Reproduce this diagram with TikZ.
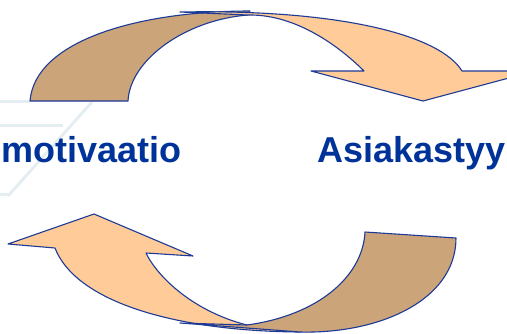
\documentclass[tikz,border=0pt]{standalone}
\usepackage{fontspec}
\setmainfont{Liberation Sans}
\usetikzlibrary{positioning}

\definecolor{bandtan}{RGB}{204,164,122}
\definecolor{bandlight}{RGB}{255,204,153}
\definecolor{edgeblue}{RGB}{28,58,150}
\definecolor{textblue}{RGB}{0,51,153}
\definecolor{watermark}{RGB}{228,238,242}

\tikzset{
	band/.style			= {draw = edgeblue, line width = 1.1pt, line join = round},
	bandback/.style		= {band, fill = bandtan},
	bandfront/.style	= {band, fill = bandlight},
	faintline/.style	= {draw = watermark, line width = 3pt},
	cyclelabel/.style	=
	{
		anchor		= base west,
		inner sep	= 0pt,
		text		= textblue,
		font		= \fontsize{36}{40}\selectfont\bfseries
	}
}

\begin{document}
\begin{tikzpicture}[x=1pt, y=-1pt]
		%
		\useasboundingbox (0,0) rectangle (507,333);
		\clip (0,0) rectangle (507,333);
		%
		% faint background lines
		\draw[faintline] (0,101) -- (30,101);
		\draw[faintline] (0,125) -- (63,125);
		\draw[faintline] (92,102) -- (8,196);
		\draw[faintline] (0,194) -- (10,194);
		%
		% upper half: back band, then arrow
		\path[bandback]
			(30,101) .. controls (35,40) and (140,11) .. (250,11)
			-- (248,15) .. controls (185,20) and (130,60) .. (128,101)
			-- cycle;
		\path[bandfront]
			(180,12) .. controls (340,9) and (440,35) .. (462,71)
			-- (535,71) -- (423,101) -- (311,71) -- (364,71)
			.. controls (345,52) and (300,14) .. (248,15)
			-- cycle;
		%
		% lower half: arrow, then back band
		\path[bandfront]
			(55,248) -- (8,244) -- (94,214) -- (193,256) -- (146,253)
			.. controls (158,278) and (195,312) .. (247,325)
			-- (300,332) .. controls (170,331) and (75,300) .. (55,248)
			-- cycle;
		\path[bandback]
			(365,232) -- (456,238)
			.. controls (456,300) and (380,334) .. (300,332)
			-- (180,323) -- (247,325)
			.. controls (320,315) and (363,275) .. (365,232)
			-- cycle;
		%
		\node[cyclelabel] (motivaatio) at (1,162) {motivaatio};
		\node[cyclelabel] (asiakas) at (317,162) {Asiakastyy};
		%
	\end{tikzpicture}
\end{document}
